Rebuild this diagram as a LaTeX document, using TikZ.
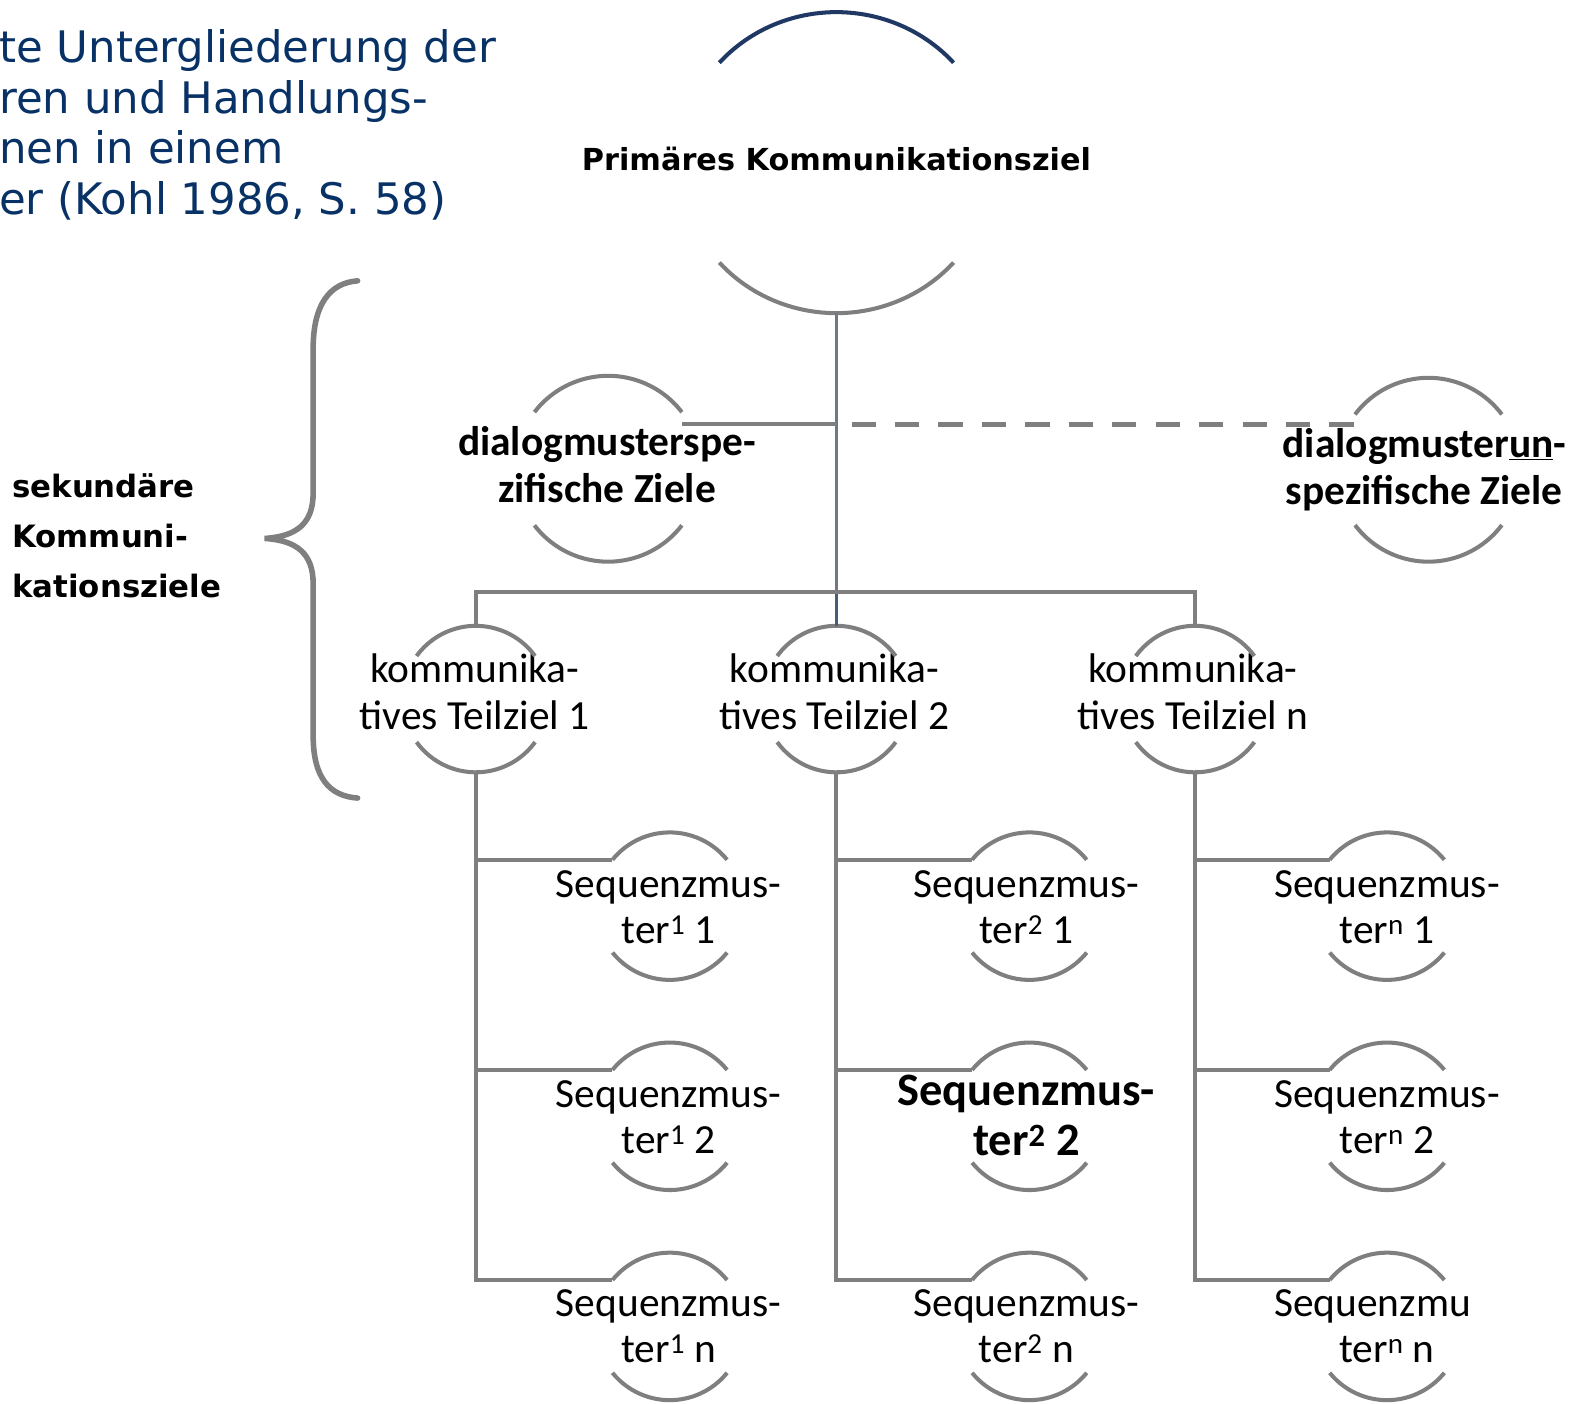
\documentclass[tikz,border=0pt]{standalone}
\usepackage{fontspec}
\setmainfont{Carlito}
\newfontfamily\verdanafont{DejaVu Sans}
\usetikzlibrary{positioning,calc}

\definecolor{capblue}{RGB}{8,50,102}
\definecolor{linegray}{RGB}{127,127,127}
\definecolor{arcblue}{RGB}{31,56,100}
\definecolor{stemgray}{RGB}{112,120,132}
\definecolor{stemblue}{RGB}{72,92,124}

\begin{document}
\begin{tikzpicture}
		[x=1pt, y=-1pt,
		goal/.style ={align=center, anchor=base, inner sep=0pt, font=\fontsize{41}{46}\selectfont},
		boldgoal/.style ={goal, font=\fontsize{41}{46}\selectfont\bfseries},
		bigseq/.style ={goal, font=\fontsize{46}{50}\selectfont\bfseries},
		primtitle/.style ={anchor=base, inner sep=0pt, font=\verdanafont\fontsize{30}{36}\selectfont\bfseries},
		sidelabel/.style ={align=left, anchor=base west, inner sep=0pt, font=\verdanafont\fontsize{30.5}{49.5}\selectfont\bfseries},
		captext/.style ={align=left, anchor=base west, inner sep=0pt, text=capblue, font=\verdanafont\fontsize{43}{50}\selectfont},
		arcline/.style ={line width=4pt},
		link/.style ={draw=linegray, line width=4pt},
		dashlink/.style ={link, line width=5pt, dash pattern=on 24pt off 19pt, dash phase=28pt},
		curlybrace/.style ={draw=linegray, line width=5.5pt, line cap=round},
		]

		\useasboundingbox (0,0) rectangle (1568,1389);

		% multi-line nodes sit on the baseline of their last line
		\draw (-1,212) node[captext] (cap) {te Untergliederung der\\ren und Handlungs-\\nen in einem\\er (Kohl 1986, S. 58)};

		\draw (828,169) node[primtitle] (prim) {Primäres Kommunikationsziel};
		\draw (12,591) node[sidelabel] (sek) {sekundäre\\Kommuni-\\kationsziele};
		\draw (601,497) node[boldgoal] (dspez) {dialogmusterspe-\\zifische Ziele};
		\draw (1410,499) node[boldgoal] (duspez) {dialogmuster\underline{un}-\\spezifische Ziele};

		\draw (470,722) node[goal] (k1) {kommunika-\\tives Teilziel 1};
		\draw (826,722) node[goal] (k2) {kommunika-\\tives Teilziel 2};
		\draw (1181,722) node[goal] (k3) {kommunika-\\tives Teilziel n};

		\draw (662,934) node[goal] (s11) {Sequenzmus-\\ter\textsuperscript{1} 1};
		\draw (662,1142) node[goal] (s12) {Sequenzmus-\\ter\textsuperscript{1} 2};
		\draw (662,1349) node[goal] (s13) {Sequenzmus-\\ter\textsuperscript{1} n};
		\draw (1016,934) node[goal] (s21) {Sequenzmus-\\ter\textsuperscript{2} 1};
		\draw (1016,1144) node[bigseq] (s22) {Sequenzmus-\\ter\textsuperscript{2} 2};
		\draw (1016,1349) node[goal] (s23) {Sequenzmus-\\ter\textsuperscript{2} n};
		\draw (1373,934) node[goal] (s31) {Sequenzmus-\\ter\textsuperscript{n} 1};
		\draw (1373,1142) node[goal] (s32) {Sequenzmus-\\ter\textsuperscript{n} 2};
		\draw (1373,1349) node[goal] (s33) {Sequenzmu\phantom{s-}\\ter\textsuperscript{n} n};

		% arcs above and below every goal
		\foreach \n/\cx/\cy/\a/\b/\t/\c in {prim/828/161/155/149/41.6/arcblue,
			dspez/602/464/92/92/37.5/linegray, duspez/1414/465/91/91/37/linegray,
			k1/471/692/72.5/72.5/36/linegray, k2/828/692/72.5/72.5/36/linegray, k3/1183/692/72.5/72.5/36/linegray,
			s11/663/897/73/73/39/linegray, s12/663/1105/73/73/39/linegray, s13/663/1313/73/73/39/linegray,
			s21/1019/897/73/73/39/linegray, s22/1019/1105/73/73/39/linegray, s23/1019/1313/73/73/39/linegray,
			s31/1373/897/73/73/39/linegray, s32/1373/1105/73/73/39/linegray, s33/1373/1313/73/73/39/linegray}
		{
			\coordinate (\n-top) at (\cx,\cy-\b);
			\coordinate (\n-bot) at (\cx,\cy+\b);
			\coordinate (\n-ur) at ([shift={(\t:\a pt and \b pt)}]\cx,\cy);
			\coordinate (\n-ul) at ([shift={(180-\t:\a pt and \b pt)}]\cx,\cy);
			\draw[arcline, draw=\c] (\n-ur) arc[start angle=\t, end angle=180-\t, x radius=\a pt, y radius=\b pt];
			\draw[arcline, draw=linegray] ([shift={(180+\t:\a pt and \b pt)}]\cx,\cy) arc[start angle=180+\t, end angle=360-\t, x radius=\a pt, y radius=\b pt];
		}

		\coordinate (spez) at (828,420);
		\coordinate (bar) at (828,586);

		\draw[link, draw=stemgray, line width=3.5pt] (prim-bot) -- (bar);
		\draw[link, draw=stemblue, line width=2.5pt] (bar) -- (k2-top);
		\draw[link] (spez) -- (spez -| dspez-ur);
		\draw[dashlink] (spez) -- (spez -| duspez-ul);
		\draw[link] (k1-top) -- (k1-top |- bar) -- (k3-top |- bar) -- (k3-top);

		\foreach \col in {1,2,3}
		{
			\draw[link] (k\col-bot) -- (k\col-bot |- s\col3-ul) -- (s\col3-ul);
			\draw[link] (k\col-bot |- s\col1-ul) -- (s\col1-ul);
			\draw[link] (k\col-bot |- s\col2-ul) -- (s\col2-ul);
		}

		\draw[curlybrace] (354,278) .. controls (326,280) and (310,302) .. (310,345) -- (310,488) .. controls (310,518) and (294,531) .. (262,533) .. controls (294,535) and (310,548) .. (310,578) -- (310,728) .. controls (310,770) and (326,788) .. (354,790);

	\end{tikzpicture}
\end{document}
